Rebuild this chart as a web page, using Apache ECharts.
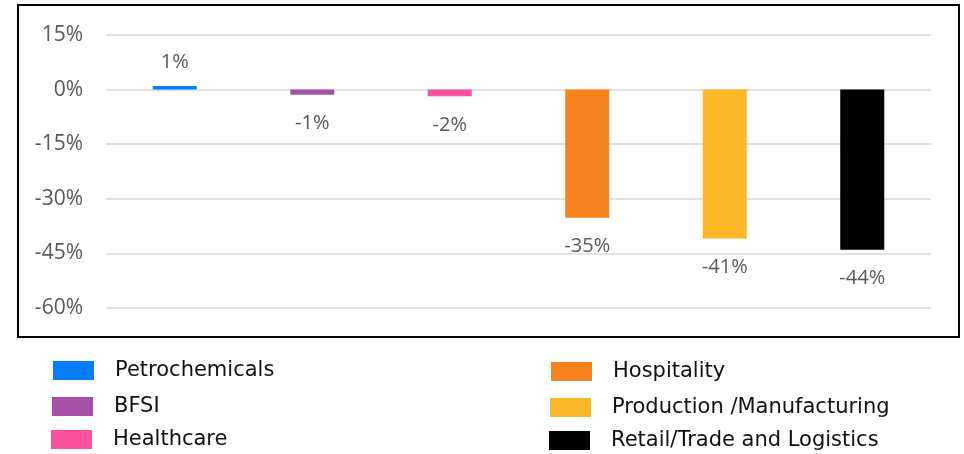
<!DOCTYPE html>
<html>
<head>
<meta charset="utf-8">
<script src="https://cdn.jsdelivr.net/npm/echarts@6/dist/echarts.min.js"></script>
<style>html,body{margin:0;padding:0;background:#fff;}#c{width:964px;height:454px;}</style>
</head>
<body>
<div id="c"></div>
<script>
const categories = ['Petrochemicals', 'BFSI', 'Healthcare', 'Hospitality', 'Production /Manufacturing', 'Retail/Trade and Logistics'];
const values = [1, -1.4, -1.8, -35.2, -40.9, -44];
const colors = ['#0a7cff', '#a550a7', '#f9519b', '#f7831f', '#fdb827', '#000000'];
const yTicks = { min: -60, max: 15, interval: 15 };

const chart = echarts.init(document.getElementById('c'));
const series = categories.map((name, i) => ({
  name: name,
  type: 'bar',
  stack: 'all',
  barWidth: 44,
  itemStyle: { color: colors[i] },
  data: categories.map((_, j) => j === i ? values[i] : '-'),
  label: {
    show: true,
    position: values[i] >= 0 ? 'top' : 'bottom',
    distance: values[i] >= 0 ? 14 : 19,
    formatter: p => Math.round(p.value) + '%',
    fontFamily: 'Open Sans',
    fontSize: 20,
    color: '#595959'
  }
}));

const legendPos = [[53, 360], [52, 396], [51, 429], [551, 361], [550, 397], [549, 430]];
const legends = categories.map((name, i) => ({
  left: legendPos[i][0],
  top: legendPos[i][1],
  data: [name],
  itemWidth: 41,
  itemHeight: 19,
  icon: 'rect',
  padding: 0,
  textStyle: { fontFamily: 'DejaVu Sans', fontSize: 21, color: '#111', padding: [0, 0, 0, 16] },
  selectedMode: false
}));

chart.setOption({
  animation: false,
  graphic: [{
    type: 'rect',
    shape: { x: 18, y: 5, width: 941, height: 332 },
    style: { fill: 'none', stroke: '#000', lineWidth: 2 },
    z: -1
  }],
  legend: legends,
  grid: { left: 106, right: 33, top: 35, bottom: 146 },
  xAxis: {
    type: 'category',
    data: categories,
    axisLine: { show: false },
    axisTick: { show: false },
    axisLabel: { show: false }
  },
  yAxis: {
    type: 'value',
    min: yTicks.min,
    max: yTicks.max,
    interval: yTicks.interval,
    axisLine: { show: false },
    axisTick: { show: false },
    splitLine: { lineStyle: { color: '#d9d9d9', width: 1.5 } },
    axisLabel: {
      formatter: v => v + '%',
      margin: 23,
      fontFamily: 'Open Sans',
      fontSize: 21,
      color: '#595959'
    }
  },
  series: series
});
</script>
</body>
</html>
